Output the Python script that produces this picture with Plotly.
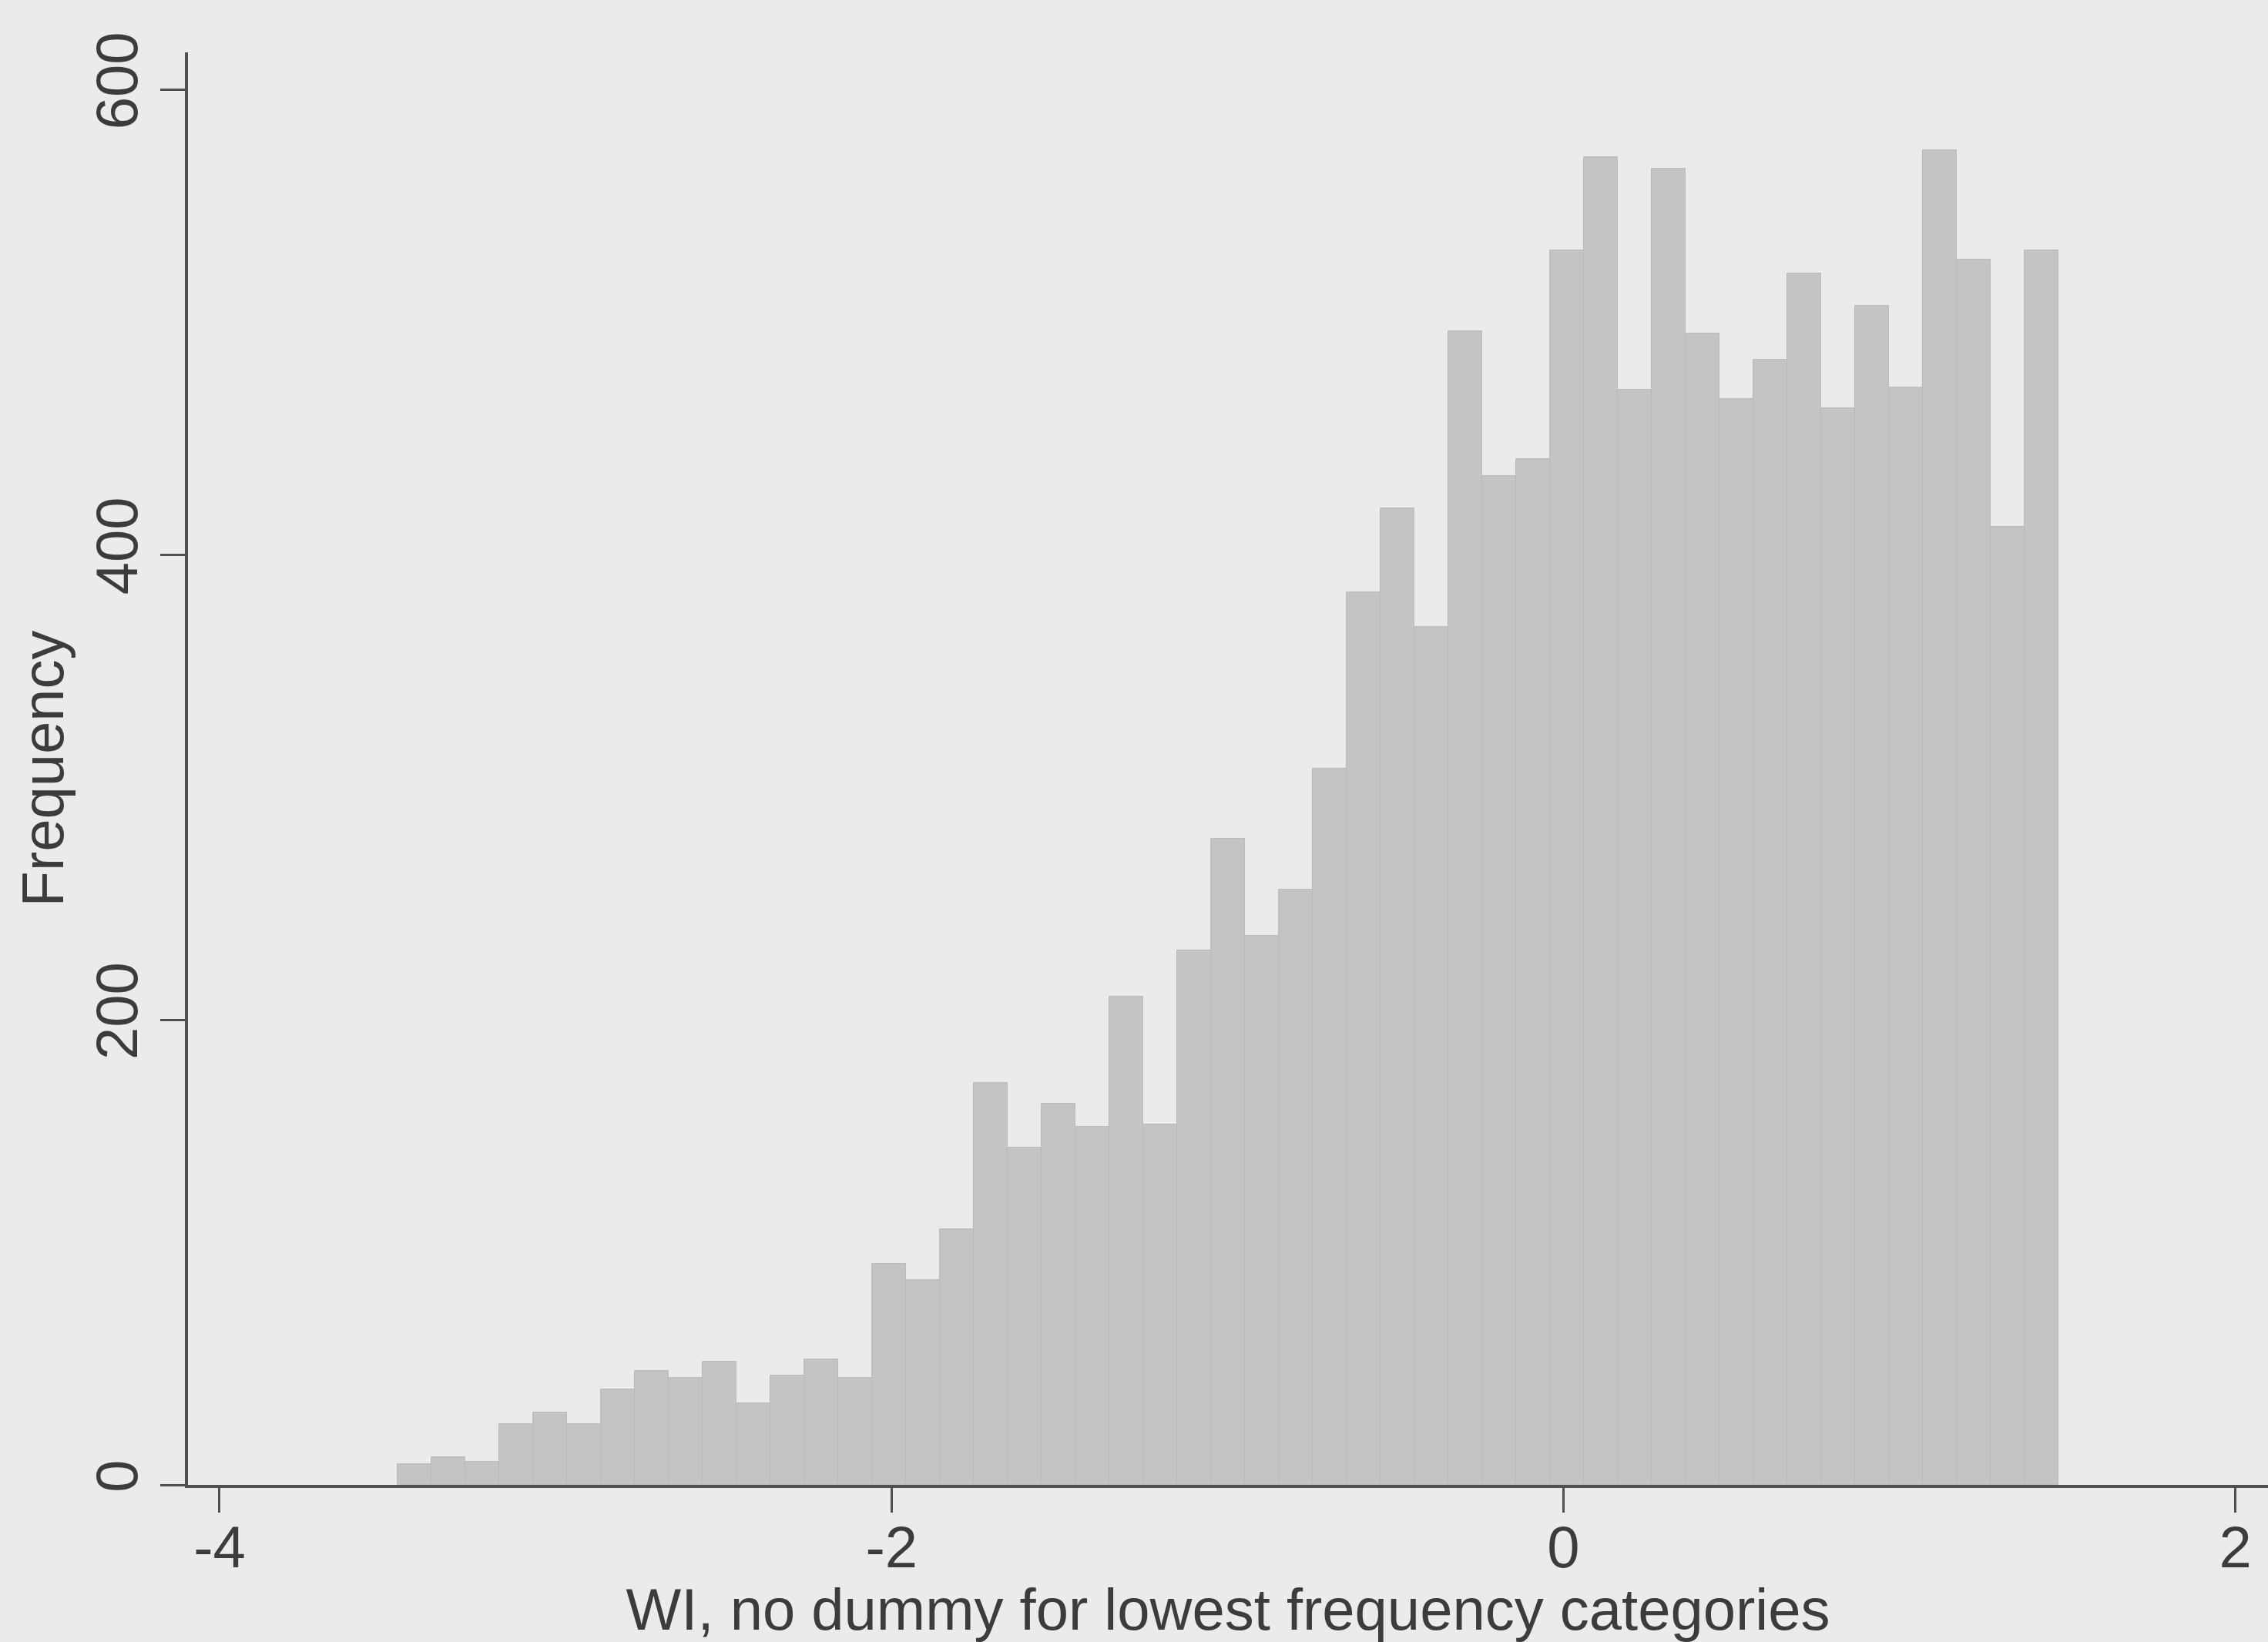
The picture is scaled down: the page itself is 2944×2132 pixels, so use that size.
import plotly.graph_objects as go

# Histogram of the wealth index (WI): bin layout and counts per bin
bin_start = -3.47
bin_width = 0.1009
counts = [9, 12, 10, 26, 31, 26, 41, 49, 46, 53, 35, 47, 54, 46,
          95, 88, 110, 173, 145, 164, 154, 210, 155, 230, 278, 236,
          256, 308, 384, 420, 369, 496, 434, 441, 531, 571, 471, 566,
          495, 467, 484, 521, 463, 507, 472, 574, 527, 412, 531]

x_ticks = [-4, -2, 0, 2]
x_tick_labels = ["-4", "-2", "0", "2"]
y_ticks = [0, 200, 400, 600]
y_tick_labels = ["0", "200", "400", "600"]

x_title = "WI, no dummy for lowest frequency categories"
y_title = "Frequency"

centers = [bin_start + bin_width * (i + 0.5) for i in range(len(counts))]

fig = go.Figure(
    go.Bar(
        x=centers,
        y=counts,
        width=bin_width,
        marker=dict(color="#c4c4c4", line=dict(color="#bababa", width=1)),
        hoverinfo="x+y",
    )
)

font_main = "Liberation Sans, Arial, sans-serif"
ink = "#3c3c3c"

fig.update_layout(
    width=2944,
    height=2132,
    margin=dict(l=244, r=0, t=68, b=204),
    paper_bgcolor="#ebebeb",
    plot_bgcolor="#ebebeb",
    bargap=0,
    showlegend=False,
    font=dict(family=font_main, size=76, color=ink),
)

fig.update_xaxes(
    range=[-4.094, 2.097],
    tickvals=x_ticks,
    ticktext=x_tick_labels,
    ticks="outside",
    ticklen=32,
    tickwidth=3,
    tickcolor="#505050",
    ticklabelstandoff=-20,
    showline=True,
    linecolor="#505050",
    linewidth=4,
    showgrid=False,
    zeroline=False,
    tickfont=dict(size=76, color=ink),
    title=dict(text=x_title, font=dict(size=76, color=ink), standoff=0),
)

fig.update_yaxes(
    range=[0, 616],
    tickvals=y_ticks,
    ticktext=y_tick_labels,
    tickangle=-90,
    ticks="outside",
    ticklen=32,
    tickwidth=3,
    tickcolor="#505050",
    showline=True,
    linecolor="#505050",
    linewidth=4,
    showgrid=False,
    zeroline=False,
    tickfont=dict(size=76, color=ink),
    title=dict(text=y_title, font=dict(size=76, color=ink), standoff=2),
)

fig.write_html("out.html")
